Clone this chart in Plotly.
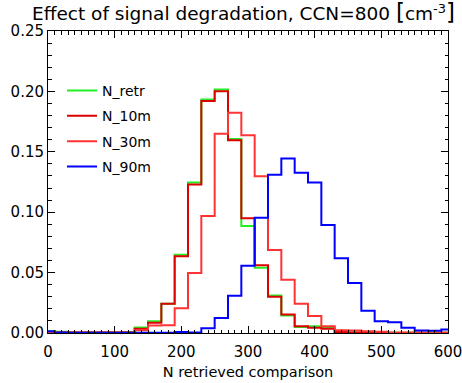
import plotly.graph_objects as go

# bin centres (IDL psym=10 style histogram)
n_values = list(range(0, 601, 20))

n_retr = [0.0015, 0.0010, 0.0005, 0.0005, 0.0005, 0.0005, 0.0008, 0.0045, 0.0097, 0.0243,
          0.0647, 0.1246, 0.1933, 0.2016, 0.1605, 0.0886, 0.0540, 0.0310, 0.0144, 0.0050,
          0.0055, 0.0050, 0.0008, 0.0005, 0.0003, 0.0003, 0.0003, 0.0003, 0.0003, 0.0003, 0.0003]
n_10m = [0.0008, 0.0005, 0.0005, 0.0005, 0.0005, 0.0005, 0.0005, 0.0035, 0.0084, 0.0243,
         0.0635, 0.1230, 0.1920, 0.2002, 0.1595, 0.0950, 0.0560, 0.0300, 0.0153, 0.0056,
         0.0043, 0.0035, 0.0008, 0.0005, 0.0003, 0.0003, 0.0003, 0.0003, 0.0003, 0.0003, 0.0003]
n_30m = [0.0005, 0.0005, 0.0005, 0.0005, 0.0005, 0.0005, 0.0005, 0.0023, 0.0062, 0.0064,
         0.0205, 0.0496, 0.0969, 0.1650, 0.1823, 0.1636, 0.1298, 0.0688, 0.0441, 0.0243,
         0.0141, 0.0056, 0.0023, 0.0020, 0.0015, 0.0010, 0.0003, 0.0003, 0.0003, 0.0003, 0.0003]
n_90m = [0.0015, 0.0005, 0.0003, 0.0003, 0.0003, 0.0003, 0.0003, 0.0003, 0.0003, 0.0003,
         0.0008, 0.0005, 0.0040, 0.0125, 0.0309, 0.0556, 0.0955, 0.1310, 0.1444, 0.1326,
         0.1246, 0.0894, 0.0618, 0.0414, 0.0185, 0.0097, 0.0090, 0.0043, 0.0020, 0.0018, 0.0029]

series_names = ["N_retr", "N_10m", "N_30m", "N_90m"]
series_values = [n_retr, n_10m, n_30m, n_90m]
series_colors = ["#22ee22", "#dd0000", "#ff3333", "#0000ff"]

x_ticks = [0, 100, 200, 300, 400, 500, 600]
y_ticks = [0.00, 0.05, 0.10, 0.15, 0.20, 0.25]

FONT = "DejaVu Sans"

fig = go.Figure()
for name, vals, col in zip(series_names, series_values, series_colors):
    fig.add_trace(go.Scatter(
        x=n_values, y=vals, name=name, mode="lines",
        line=dict(color=col, width=2, shape="hvh"),
        legendgroup=name,
    ))

axis_common = dict(
    showline=True, linecolor="black", linewidth=1, mirror="ticks",
    ticks="inside", ticklen=7, tickwidth=1, tickcolor="black",
    showgrid=False, zeroline=False, ticklabeloverflow="allow", automargin=False,
    tickfont=dict(family=FONT, size=15, color="black"),
)

fig.update_xaxes(
    range=[0, 600], tickvals=x_ticks, ticktext=[str(v) for v in x_ticks],
    minor=dict(ticks="inside", ticklen=3.5, dtick=10, tickcolor="black", showgrid=False),
    ticklabelstandoff=5,
    title=dict(text="N retrieved comparison", font=dict(family=FONT, size=14.5, color="black"), standoff=6),
    **axis_common,
)
fig.update_yaxes(
    range=[0, 0.25], tickvals=y_ticks, ticktext=["%.2f" % v for v in y_ticks],
    minor=dict(ticks="inside", ticklen=3.5, dtick=0.01, tickcolor="black", showgrid=False),
    **axis_common,
)

fig.update_layout(
    width=462, height=383,
    margin=dict(l=48, r=14, t=30.5, b=49.5, autoexpand=False),
    paper_bgcolor="white", plot_bgcolor="white",
    font=dict(family=FONT, color="black"),
    title=dict(
        text="Effect of signal degradation, CCN=800 <span style='font-size:23px'>[</span>cm<sup>-3</sup><span style='font-size:23px'>]</span>",
        font=dict(family=FONT, size=18.5, color="black"),
        x=243.5 / 462, xref="container", xanchor="center",
        y=1 - 14 / 383, yref="container", yanchor="middle",
    ),
    legend=dict(
        x=0.035, y=0.855, xref="paper", yref="paper", xanchor="left", yanchor="top",
        bgcolor="rgba(0,0,0,0)", borderwidth=0,
        font=dict(family=FONT, size=14, color="black"),
        tracegroupgap=4.2,
    ),
    showlegend=True,
)

fig.write_html("out.html")
